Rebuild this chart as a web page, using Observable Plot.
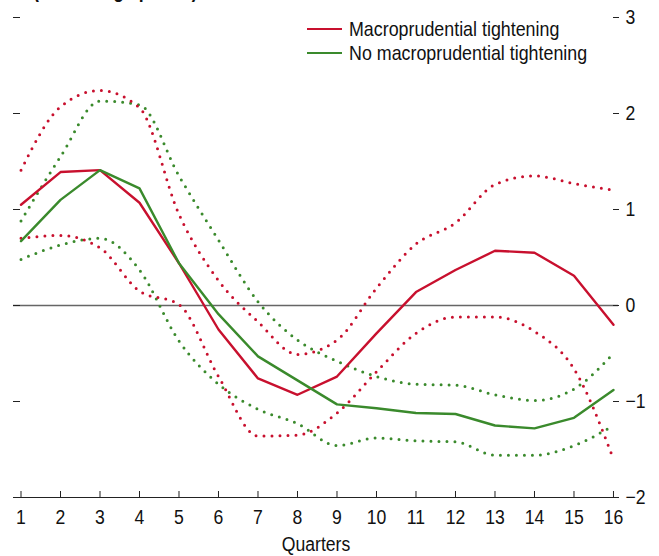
<!DOCTYPE html>
<html>
<head>
<meta charset="utf-8">
<script src="https://cdn.jsdelivr.net/npm/d3@7"></script>
<script src="https://cdn.jsdelivr.net/npm/@observablehq/plot@0.6"></script>
<style>
  html, body { margin: 0; padding: 0; background: #fff; }
  #wrap { position: relative; width: 659px; height: 556px; overflow: hidden;
    font-family: "Liberation Sans", Arial, sans-serif; color: #111; }
  #wrap svg { position: absolute; left: 0; top: 0; }
  .title { position: absolute; left: 33px; top: -20px; font-size: 21.5px; font-weight: bold; line-height: 1; white-space: nowrap;
    transform: scaleX(0.82); transform-origin: 0 0; }
  .legend { position: absolute; left: 307px; font-size: 21px; line-height: 1; white-space: nowrap; }
  .legend .sw { display: inline-block; width: 35px; height: 0; border-top: 2.5px solid; vertical-align: middle; margin-right: 7px; position: relative; top: -1px; }
  .legend .txt { display: inline-block; transform: scaleX(0.85); transform-origin: 0 50%; }
</style>
</head>
<body>
<div id="wrap"></div>
<script>
// ---- data ----
const quarters = [1, 2, 3, 4, 5, 6, 7, 8, 9, 10, 11, 12, 13, 14, 15, 16];
const yTicks = [-2, -1, 0, 1, 2, 3];

const tightening      = [1.05, 1.39, 1.41, 1.07, 0.44, -0.25, -0.76, -0.93, -0.74, -0.29, 0.14, 0.37, 0.57, 0.55, 0.31, -0.20];
const tighteningUpper = [1.41, 2.07, 2.24, 2.06, 0.95, 0.26, -0.17, -0.51, -0.36, 0.18, 0.64, 0.86, 1.26, 1.35, 1.27, 1.20];
const tighteningLower = [0.70, 0.73, 0.60, 0.15, 0.01, -0.74, -1.36, -1.35, -1.12, -0.69, -0.29, -0.12, -0.12, -0.27, -0.66, -1.60];

const noTightening      = [0.67, 1.10, 1.41, 1.22, 0.44, -0.09, -0.53, -0.78, -1.03, -1.07, -1.12, -1.13, -1.25, -1.28, -1.17, -0.88];
const noTighteningUpper = [0.88, 1.55, 2.13, 2.09, 1.35, 0.68, 0.04, -0.36, -0.58, -0.74, -0.82, -0.83, -0.93, -0.99, -0.87, -0.50];
const noTighteningLower = [0.48, 0.63, 0.70, 0.37, -0.37, -0.82, -1.08, -1.23, -1.46, -1.38, -1.41, -1.42, -1.56, -1.56, -1.46, -1.25];

const seriesNames = ["Macroprudential tightening", "No macroprudential tightening"];
const titleText = "(Percentage points)";
const xLabel = "Quarters";

// ---- styling ----
const RED = "#c8102e";
const GREEN = "#3a8a2c";
const FONT = '"Liberation Sans", Arial, sans-serif';

const toRows = (vals) => vals.map((v, i) => ({q: quarters[i], v}));

const dotted = (vals, color) => Plot.line(toRows(vals), {
  x: "q", y: "v", stroke: color, strokeWidth: 3, strokeDasharray: "0 8",
  strokeLinecap: "round", curve: "monotone-x"
});
const solid = (vals, color) => Plot.line(toRows(vals), {
  x: "q", y: "v", stroke: color, strokeWidth: 2.4, strokeLinejoin: "round"
});
const fmtY = d => (d < 0 ? "\u2212" + Math.abs(d) : String(d));

const chart = Plot.plot({
  width: 659,
  height: 556,
  marginLeft: 13,
  marginRight: 41,
  marginTop: 17,
  marginBottom: 59,
  style: {fontFamily: FONT, fontSize: "20px", color: "#111", background: "transparent"},
  x: {domain: [0.81, 16.127]},
  y: {domain: [-2, 3]},
  marks: [
    Plot.ruleY([0], {stroke: "#666", strokeWidth: 1.5}),
    Plot.ruleY([-2], {stroke: "#222", strokeWidth: 1.2}),
    Plot.axisX(quarters, {tickSize: -6, tickPadding: 18, stroke: "#222", label: null, tickFormat: d => String(d)}),
    Plot.text([xLabel], {frameAnchor: "bottom", dy: 39, lineAnchor: "top", fontSize: 20, fill: "#111"}),
    Plot.axisY(yTicks, {anchor: "left", tickSize: -7, tickFormat: () => "", label: null, stroke: "#222"}),
    Plot.axisY(yTicks, {anchor: "right", tickSize: -6, tickPadding: 13, label: null, stroke: "#222", tickFormat: fmtY}),
    dotted(noTighteningUpper, GREEN),
    dotted(noTighteningLower, GREEN),
    dotted(tighteningUpper, RED),
    dotted(tighteningLower, RED),
    solid(tightening, RED),
    solid(noTightening, GREEN)
  ]
});

const wrap = document.getElementById("wrap");
wrap.appendChild(chart);

// condense the SVG texts to imitate the narrow typeface of the reference
chart.querySelectorAll("text").forEach(t => {
  const w = t.getComputedTextLength();
  if (w > 0) {
    t.setAttribute("textLength", (w * 0.88).toFixed(2));
    t.setAttribute("lengthAdjust", "spacingAndGlyphs");
  }
});

// title (partly cut off at the top, as in the reference)
const title = document.createElement("div");
title.className = "title";
title.textContent = titleText;
wrap.appendChild(title);

// legend
[[seriesNames[0], RED, 18], [seriesNames[1], GREEN, 42]].forEach(([name, color, top]) => {
  const d = document.createElement("div");
  d.className = "legend";
  d.style.top = top + "px";
  const sw = document.createElement("span");
  sw.className = "sw";
  sw.style.borderColor = color;
  const tx = document.createElement("span");
  tx.className = "txt";
  tx.textContent = name;
  d.appendChild(sw);
  d.appendChild(tx);
  wrap.appendChild(d);
});
</script>
</body>
</html>
